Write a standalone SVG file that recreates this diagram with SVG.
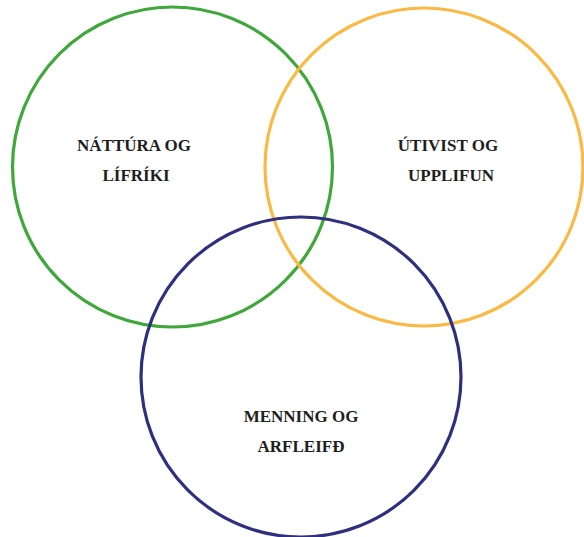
<svg xmlns="http://www.w3.org/2000/svg" width="584" height="537" viewBox="0 0 584 537">
<style>
.c{fill:none;stroke-width:3.2}
.t{font-family:'Liberation Serif','DejaVu Serif',serif;font-weight:bold;font-size:17px;fill:#1e1e1e;text-anchor:middle}
</style>
<rect width="584" height="537" fill="#ffffff"/>
<g id="natura">
<circle class="c" cx="172.5" cy="167" r="160" stroke="#3fa83a"/>
<text class="t" x="134" y="151">NÁTTÚRA OG</text>
<text class="t" x="136" y="181">LÍFRÍKI</text>
</g>
<g id="utivist">
<circle class="c" cx="424" cy="167" r="159" stroke="#fbb843"/>
<text class="t" x="448" y="151">ÚTIVIST OG</text>
<text class="t" x="451" y="181">UPPLIFUN</text>
</g>
<g id="menning">
<circle class="c" cx="301" cy="377" r="160" stroke="#2e2f7f"/>
<text class="t" x="301" y="422">MENNING OG</text>
<text class="t" x="301" y="452">ARFLEIFÐ</text>
</g>
<g id="connectors"></g>
</svg>
